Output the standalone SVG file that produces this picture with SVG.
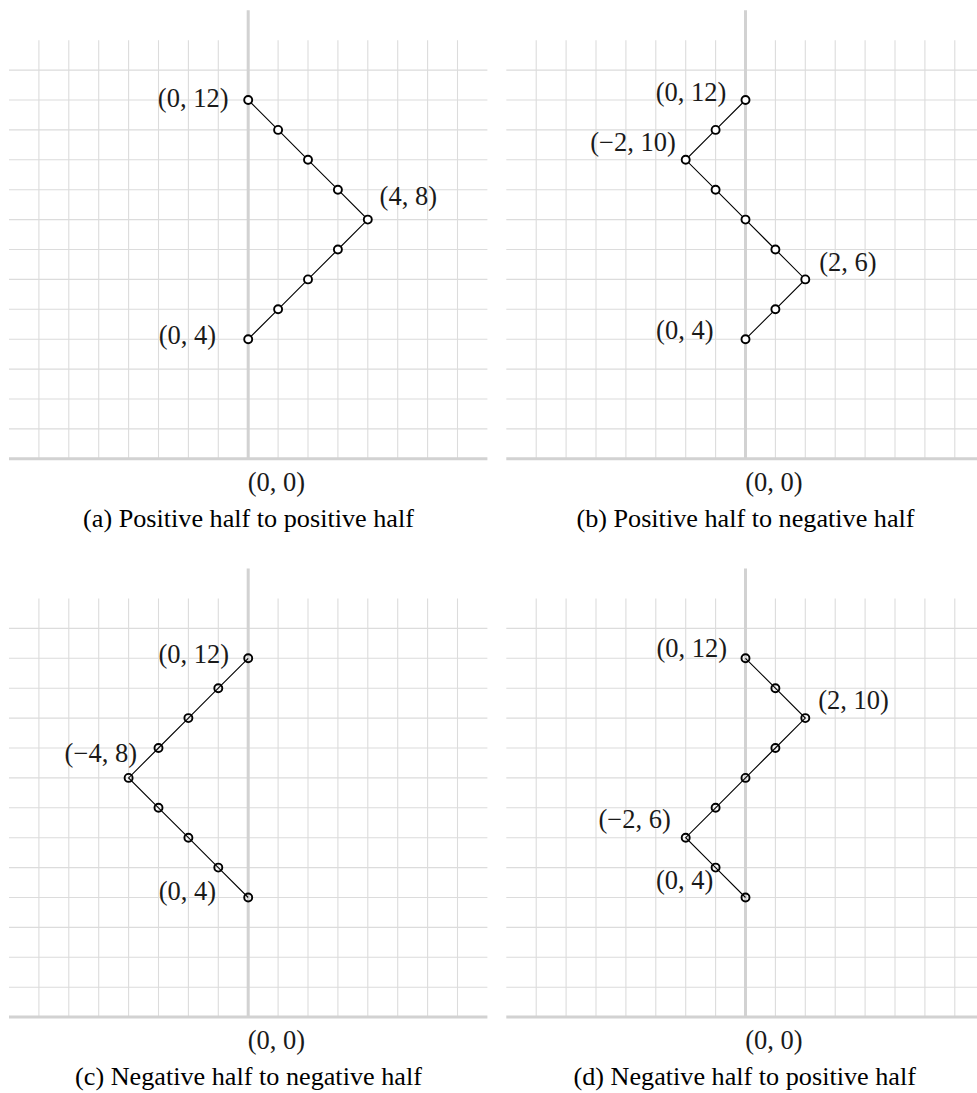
<svg xmlns="http://www.w3.org/2000/svg" xmlns:xlink="http://www.w3.org/1999/xlink" width="977" height="1093" viewBox="0 0 977 1093">
<style>
.grid{fill:none;stroke:#dcdcdc;stroke-width:1.1}
.axis{fill:none;stroke:#d2d2d2;stroke-width:3}
.edge{fill:none;stroke:#000;stroke-width:1.1}
.pt{stroke:#000;stroke-width:1.9}
.pa circle{fill:#fff}
.pc circle{fill:none}
.lbl{font-family:"Liberation Serif","Times New Roman",serif;font-size:26.5px;fill:#1a1a1a;text-anchor:middle}
.cap{font-family:"Liberation Serif","Times New Roman",serif;font-size:26.2px;fill:#000;text-anchor:middle}
</style>
<defs>
<g id="frame">
<path class="grid" d="M-239.2 -29.9H239.2M-239.2 -59.8H239.2M-239.2 -89.7H239.2M-239.2 -119.6H239.2M-239.2 -149.5H239.2M-239.2 -179.4H239.2M-239.2 -209.3H239.2M-239.2 -239.2H239.2M-239.2 -269.1H239.2M-239.2 -299H239.2M-239.2 -328.9H239.2M-239.2 -358.8H239.2M-239.2 -388.7H239.2M-209.3 0V-418.6M-179.4 0V-418.6M-149.5 0V-418.6M-119.6 0V-418.6M-89.7 0V-418.6M-59.8 0V-418.6M-29.9 0V-418.6M29.9 0V-418.6M59.8 0V-418.6M89.7 0V-418.6M119.6 0V-418.6M149.5 0V-418.6M179.4 0V-418.6M209.3 0V-418.6"/>
<path class="axis" d="M-239.2 0H239.2M0 0V-448.5"/>
</g>
</defs>

<g id="panel-a" transform="translate(248.2 458.8)">
<use xlink:href="#frame" href="#frame"/>
<g id="connectors-a"><polyline class="edge" points="0,-358.8 29.9,-328.9 59.8,-299 89.7,-269.1 119.6,-239.2 89.7,-209.3 59.8,-179.4 29.9,-149.5 0,-119.6"/></g>
<g class="pa">
<g id="a-n1"><circle class="pt" cx="0" cy="-358.8" r="4"/></g>
<g id="a-n2"><circle class="pt" cx="29.9" cy="-328.9" r="4"/></g>
<g id="a-n3"><circle class="pt" cx="59.8" cy="-299" r="4"/></g>
<g id="a-n4"><circle class="pt" cx="89.7" cy="-269.1" r="4"/></g>
<g id="a-n5"><circle class="pt" cx="119.6" cy="-239.2" r="4"/></g>
<g id="a-n6"><circle class="pt" cx="89.7" cy="-209.3" r="4"/></g>
<g id="a-n7"><circle class="pt" cx="59.8" cy="-179.4" r="4"/></g>
<g id="a-n8"><circle class="pt" cx="29.9" cy="-149.5" r="4"/></g>
<g id="a-n9"><circle class="pt" cx="0" cy="-119.6" r="4"/></g>
</g>
</g>

<g id="panel-b" transform="translate(745.5 458.8)">
<use xlink:href="#frame" href="#frame"/>
<g id="connectors-b"><polyline class="edge" points="0,-358.8 -29.9,-328.9 -59.8,-299 -29.9,-269.1 0,-239.2 29.9,-209.3 59.8,-179.4 29.9,-149.5 0,-119.6"/></g>
<g class="pa">
<g id="b-n1"><circle class="pt" cx="0" cy="-358.8" r="4"/></g>
<g id="b-n2"><circle class="pt" cx="-29.9" cy="-328.9" r="4"/></g>
<g id="b-n3"><circle class="pt" cx="-59.8" cy="-299" r="4"/></g>
<g id="b-n4"><circle class="pt" cx="-29.9" cy="-269.1" r="4"/></g>
<g id="b-n5"><circle class="pt" cx="0" cy="-239.2" r="4"/></g>
<g id="b-n6"><circle class="pt" cx="29.9" cy="-209.3" r="4"/></g>
<g id="b-n7"><circle class="pt" cx="59.8" cy="-179.4" r="4"/></g>
<g id="b-n8"><circle class="pt" cx="29.9" cy="-149.5" r="4"/></g>
<g id="b-n9"><circle class="pt" cx="0" cy="-119.6" r="4"/></g>
</g>
</g>

<g id="panel-c" transform="translate(248.2 1017.1)">
<use xlink:href="#frame" href="#frame"/>
<g id="connectors-c"><polyline class="edge" points="0,-358.8 -29.9,-328.9 -59.8,-299 -89.7,-269.1 -119.6,-239.2 -89.7,-209.3 -59.8,-179.4 -29.9,-149.5 0,-119.6"/></g>
<g class="pc">
<g id="c-n1"><circle class="pt" cx="0" cy="-358.8" r="4"/></g>
<g id="c-n2"><circle class="pt" cx="-29.9" cy="-328.9" r="4"/></g>
<g id="c-n3"><circle class="pt" cx="-59.8" cy="-299" r="4"/></g>
<g id="c-n4"><circle class="pt" cx="-89.7" cy="-269.1" r="4"/></g>
<g id="c-n5"><circle class="pt" cx="-119.6" cy="-239.2" r="4"/></g>
<g id="c-n6"><circle class="pt" cx="-89.7" cy="-209.3" r="4"/></g>
<g id="c-n7"><circle class="pt" cx="-59.8" cy="-179.4" r="4"/></g>
<g id="c-n8"><circle class="pt" cx="-29.9" cy="-149.5" r="4"/></g>
<g id="c-n9"><circle class="pt" cx="0" cy="-119.6" r="4"/></g>
</g>
</g>

<g id="panel-d" transform="translate(745.5 1017.1)">
<use xlink:href="#frame" href="#frame"/>
<g id="connectors-d"><polyline class="edge" points="0,-358.8 29.9,-328.9 59.8,-299 29.9,-269.1 0,-239.2 -29.9,-209.3 -59.8,-179.4 -29.9,-149.5 0,-119.6"/></g>
<g class="pc">
<g id="d-n1"><circle class="pt" cx="0" cy="-358.8" r="4"/></g>
<g id="d-n2"><circle class="pt" cx="29.9" cy="-328.9" r="4"/></g>
<g id="d-n3"><circle class="pt" cx="59.8" cy="-299" r="4"/></g>
<g id="d-n4"><circle class="pt" cx="29.9" cy="-269.1" r="4"/></g>
<g id="d-n5"><circle class="pt" cx="0" cy="-239.2" r="4"/></g>
<g id="d-n6"><circle class="pt" cx="-29.9" cy="-209.3" r="4"/></g>
<g id="d-n7"><circle class="pt" cx="-59.8" cy="-179.4" r="4"/></g>
<g id="d-n8"><circle class="pt" cx="-29.9" cy="-149.5" r="4"/></g>
<g id="d-n9"><circle class="pt" cx="0" cy="-119.6" r="4"/></g>
</g>
</g>

<g id="labels">
<text class="lbl" x="193.2" y="107">(0, 12)</text>
<text class="lbl" x="408.3" y="205">(4, 8)</text>
<text class="lbl" x="187.5" y="344">(0, 4)</text>
<text class="lbl" x="276.5" y="491">(0, 0)</text>
<text class="cap" x="248.5" y="527">(a) Positive half to positive half</text>

<text class="lbl" x="691" y="100.7">(0, 12)</text>
<text class="lbl" x="633" y="150.7">(−2, 10)</text>
<text class="lbl" x="848" y="270.7">(2, 6)</text>
<text class="lbl" x="684.8" y="339.3">(0, 4)</text>
<text class="lbl" x="774" y="491">(0, 0)</text>
<text class="cap" x="745.5" y="527">(b) Positive half to negative half</text>

<text class="lbl" x="193.8" y="663">(0, 12)</text>
<text class="lbl" x="100.8" y="761.7">(−4, 8)</text>
<text class="lbl" x="187.5" y="900">(0, 4)</text>
<text class="lbl" x="276.5" y="1049">(0, 0)</text>
<text class="cap" x="248.5" y="1085">(c) Negative half to negative half</text>

<text class="lbl" x="691.8" y="656.7">(0, 12)</text>
<text class="lbl" x="853.5" y="709.3">(2, 10)</text>
<text class="lbl" x="634.7" y="827.7">(−2, 6)</text>
<text class="lbl" x="684.7" y="889.3">(0, 4)</text>
<text class="lbl" x="774" y="1049">(0, 0)</text>
<text class="cap" x="744.7" y="1085">(d) Negative half to positive half</text>
</g>
</svg>
